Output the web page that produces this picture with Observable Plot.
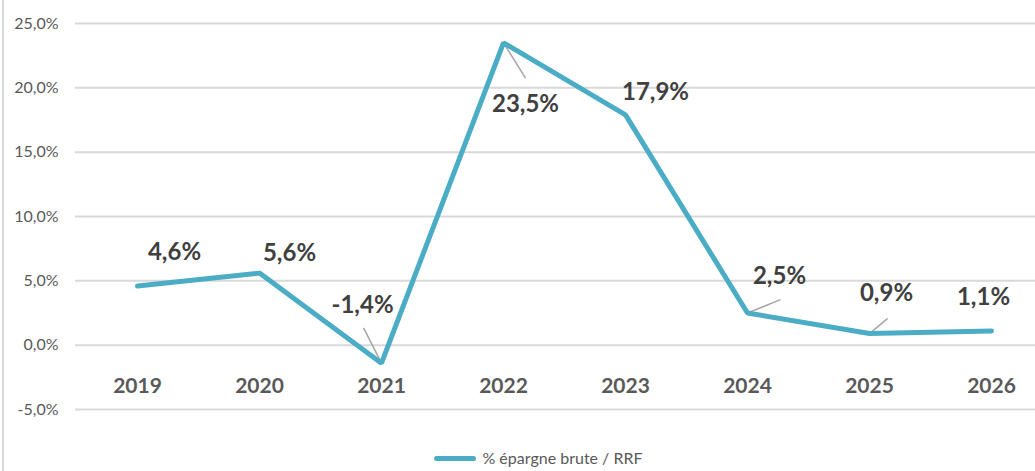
<!DOCTYPE html>
<html>
<head>
<meta charset="utf-8">
<script src="https://cdn.jsdelivr.net/npm/d3@7"></script>
<script src="https://cdn.jsdelivr.net/npm/@observablehq/plot@0.6"></script>
<style>
  html, body { margin: 0; padding: 0; background: #fff; }
  #wrap { position: relative; width: 1035px; height: 471px; overflow: hidden; }
  #border { position: absolute; left: 2px; top: 0; width: 2px; height: 471px; background: #d9d9d9; }
  #chart svg { display: block; }
  #legend { display: flex; align-items: center; justify-content: center; gap: 6px;
    font-family: Lato, "Open Sans", sans-serif; line-height: 18px;
    font-size: 16px; color: #595959; padding-top: 9px; padding-left: 42px; }
  #legend .sw { display: inline-block; width: 42px; height: 5px; border-radius: 3px; background: #4BACC6; }
</style>
</head>
<body>
<div id="wrap">
  <div id="chart"></div>
  <div id="legend"></div>
  <div id="border"></div>
</div>
<script>
// ---- data ----
const years = ["2019", "2020", "2021", "2022", "2023", "2024", "2025", "2026"];
const values = [4.6, 5.6, -1.4, 23.5, 17.9, 2.5, 0.9, 1.1];
const yTicks = [-5, 0, 5, 10, 15, 20, 25];
const seriesName = "% épargne brute / RRF";

// ---- layout (pixel offsets of value labels relative to their point) ----
const labelDx = [37, 30, -19, 22, 30, 32, 17, -8];
const labelDy = [-34, -20, -58, 62, -23, -37, -40, -34];
// leader lines: [index, length px, rotation deg]
const leaders = [[2, 39, -27], [3, 41, 148], [5, 35, 68], [6, 23, 50]];

const fmt = v => v.toFixed(1).replace(".", ",") + "%";
const data = years.map((y, i) => ({year: y, value: values[i], label: fmt(values[i])}));

const FONT = 'Lato, "Open Sans", sans-serif';
const lineShape = {draw(context, l) { context.moveTo(0, 0); context.lineTo(0, -l); }};

const marks = [
  Plot.ruleY(yTicks, {stroke: "#d9d9d9", strokeWidth: 2}),
  Plot.axisY({ticks: yTicks, tickSize: 0, tickPadding: 17, tickFormat: fmt, fontSize: 16, label: null, fill: "#595959"}),
  Plot.axisX({anchor: "bottom", tickSize: 0, tickPadding: 0, lineAnchor: "middle", dy: -23, fontSize: 21, fontWeight: "bold", label: null, fill: "#595959"}),
  ...leaders.map(([i, len, rot]) => Plot.vector([data[i]], {
    x: "year", y: "value", length: len, rotate: rot, anchor: "start",
    shape: lineShape, stroke: "#a6a6a6", strokeWidth: 1.5
  })),
  Plot.line(data, {x: "year", y: "value", stroke: "#4BACC6", strokeWidth: 5, strokeLinecap: "round", strokeLinejoin: "miter"}),
  ...data.map((d, i) => Plot.text([d], {
    x: "year", y: "value", text: "label", dx: labelDx[i], dy: labelDy[i],
    fontSize: 24, fontWeight: "bold", fill: "#404040", lineAnchor: "middle", textAnchor: "middle"
  }))
];

const chart = Plot.plot({
  width: 1035,
  height: 440,
  marginTop: 23,
  marginBottom: 31,
  marginLeft: 75,
  marginRight: 0,
  style: {fontFamily: FONT, color: "#595959", background: "#fff", overflow: "visible"},
  x: {type: "point", domain: years, range: [137, 991], padding: 0},
  y: {domain: [-5, 25]},
  marks
});
document.getElementById("chart").appendChild(chart);

const lg = document.getElementById("legend");
const sw = document.createElement("span"); sw.className = "sw";
const tx = document.createElement("span"); tx.textContent = seriesName;
lg.appendChild(sw); lg.appendChild(tx);
</script>
</body>
</html>
